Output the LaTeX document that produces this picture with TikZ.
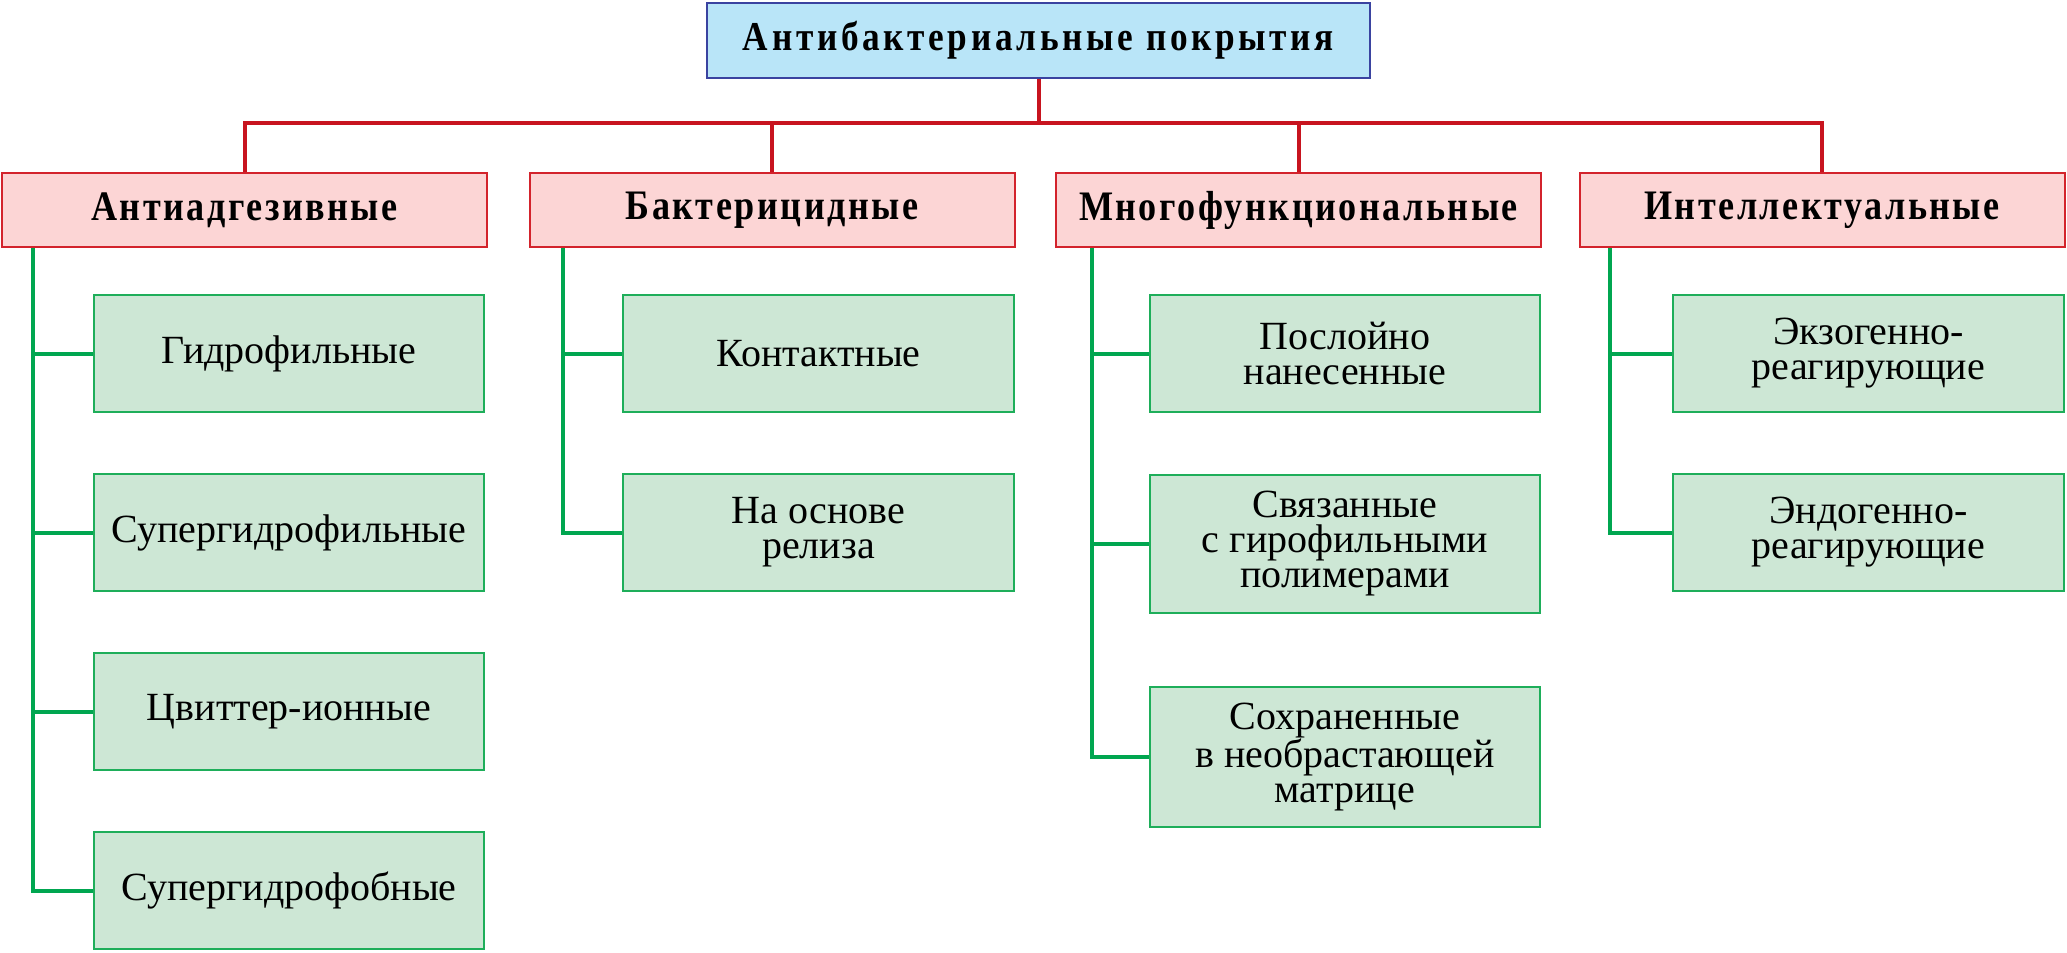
\documentclass[tikz,border=0pt]{standalone}
\usepackage{fontspec}
\setmainfont{Liberation Serif}
\newfontfamily\titlefont[LetterSpace=9,FakeStretch=0.86]{Liberation Serif}
\newfontfamily\catfont[LetterSpace=6,FakeStretch=0.86]{Liberation Serif}
\definecolor{topfill}{HTML}{B9E5F8}
\definecolor{topdraw}{HTML}{3A43A0}
\definecolor{catfill}{HTML}{FCD5D5}
\definecolor{catdraw}{HTML}{D3232C}
\definecolor{subfill}{HTML}{CDE7D5}
\definecolor{subdraw}{HTML}{1EAE5A}
\definecolor{gline}{HTML}{00A650}
\definecolor{rline}{HTML}{C8141F}
\tikzset{
  topbox/.style={draw=topdraw, fill=topfill, line width=2pt, minimum width=663pt, minimum height=75pt, inner sep=0pt,
    font=\titlefont\bfseries\fontsize{41}{44}\selectfont},
  catbox/.style={draw=catdraw, fill=catfill, line width=2pt, minimum width=485pt, minimum height=74pt, inner sep=0pt,
    font=\catfont\bfseries\fontsize{42}{44}\selectfont},
  subbox/.style={draw=subdraw, fill=subfill, line width=2pt, minimum height=117pt, inner sep=0pt, align=center,
    font=\fontsize{40}{35}\selectfont},
  redl/.style={draw=rline, line width=4pt},
  grnl/.style={draw=gline, line width=4pt},
}
\begin{document}
\begin{tikzpicture}[x=1pt,y=-1pt]
\useasboundingbox (0,0) rectangle (2067,953);
\node[topbox] (top) at (1038.5,40.5) {Антибактериальные покрытия};
\node[catbox] (c1) at (244.5,210) {Антиадгезивные};
\node[catbox] (c2) at (772,210) {Бактерицидные};
\node[catbox] (c3) at (1298.5,210) {Многофункциональные};
\node[catbox] (c4) at (1822,210) {Интеллектуальные};
% column 1
\node[subbox, minimum width=390pt] (s11) at (289,353.5) {Гидрофильные};
\node[subbox, minimum width=390pt] (s12) at (289,532.5) {Супергидрофильные};
\node[subbox, minimum width=390pt] (s13) at (289,711.5) {Цвиттер-ионные};
\node[subbox, minimum width=390pt] (s14) at (289,890.5) {Супергидрофобные};
% column 2
\node[subbox, minimum width=391pt] (s21) at (818.5,353.5) {Контактные};
\node[subbox, minimum width=391pt] (s22) at (818.5,532.5) {На основе\\релиза};
% column 3
\node[subbox, minimum width=390pt] (s31) at (1345,353.5) {Послойно\\нанесенные};
\node[subbox, minimum width=390pt, minimum height=138pt] (s32) at (1345,544) {Связанные\\с гирофильными\\полимерами};
\node[subbox, minimum width=390pt, minimum height=140pt] (s33) at (1345,757) {Сохраненные\\в необрастающей\\матрице};
% column 4
\node[subbox, minimum width=391pt] (s41) at (1868.5,353.5) {Экзогенно-\\реагирующие};
\node[subbox, minimum width=391pt] (s42) at (1868.5,532.5) {Эндогенно-\\реагирующие};
% red connectors
\coordinate (bus) at (0,123);
\draw[redl] (top.south) -- (top.south |- bus);
\draw[redl] (c1.north) -- (c1.north |- bus) -| (c4.north);
\draw[redl] (c2.north) -- (c2.north |- bus);
\draw[redl] (c3.north) -- (c3.north |- bus);
% green trunks
\coordinate (t1) at (33,248);
\coordinate (t2) at (563,248);
\coordinate (t3) at (1092,248);
\coordinate (t4) at (1610,248);
\foreach \s in {s11,s12,s13,s14} \draw[grnl] (t1) |- (\s.west);
\foreach \s in {s21,s22} \draw[grnl] (t2) |- (\s.west);
\foreach \s in {s31,s32,s33} \draw[grnl] (t3) |- (\s.west);
\foreach \s in {s41,s42} \draw[grnl] (t4) |- (\s.west);
\end{tikzpicture}
\end{document}
